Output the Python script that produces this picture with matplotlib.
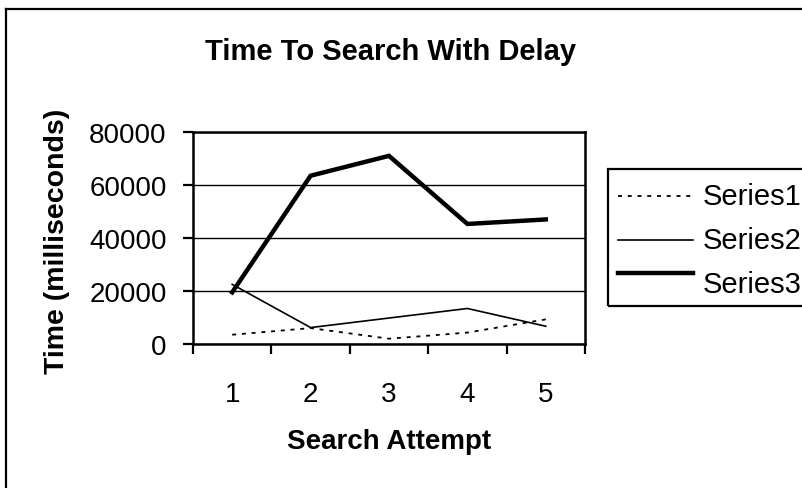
import matplotlib
matplotlib.use("Agg")
import matplotlib.pyplot as plt
from matplotlib.lines import Line2D
from matplotlib.patches import Rectangle

plt.rcParams['font.family'] = ['Liberation Sans', 'DejaVu Sans']

categories = [1, 2, 3, 4, 5]
series_names = ["Series1", "Series2", "Series3"]
series1 = [3500, 6000, 2000, 4300, 9300]
series2 = [22500, 6200, 9800, 13400, 6700]
series3 = [19500, 63500, 71000, 45300, 47000]
y_ticks = [0, 20000, 40000, 60000, 80000]

W, H = 802, 489
DPI = 100
fig = plt.figure(figsize=(W / DPI, H / DPI), dpi=DPI)

def fx(px):
    return px / W

def fy(py):
    return 1 - py / H

# figure border (extends past right/bottom edges)
fig.add_artist(Line2D([fx(6), fx(6)], [fy(10), -0.1], color='black', lw=1.6, transform=fig.transFigure))
fig.add_artist(Line2D([fx(6), 1.1], [fy(10), fy(10)], color='black', lw=1.6, transform=fig.transFigure))

left, right, top, bottom = 193, 585, 133, 345
ax = fig.add_axes([fx(left), fy(bottom), fx(right - left), (bottom - top) / H])

ax.plot(categories, series1, color='black', lw=1.3, linestyle=(0, (2.2, 3.2)))
ax.plot(categories, series2, color='black', lw=1.2, linestyle='-')
ax.plot(categories, series3, color='black', lw=3.2, linestyle='-', solid_joinstyle='miter')

ax.set_xlim(0.5, 5.5)
ax.set_ylim(0, 80000)

ax.set_yticks(y_ticks)
ax.set_yticklabels([str(v) for v in y_ticks])
ax.yaxis.grid(True, color='black', lw=1.0)
ax.set_axisbelow(True)

bounds = [c - 0.5 for c in categories] + [categories[-1] + 0.5]
ax.set_xticks(bounds)
ax.set_xticklabels([''] * len(bounds))
ax.set_xticks(categories, minor=True)
ax.set_xticklabels([str(c) for c in categories], minor=True)
ax.tick_params(axis='x', which='minor', length=0, pad=27, labelsize=20)
ax.tick_params(axis='x', which='major', length=7, width=1.6, direction='out')
ax.tick_params(axis='y', which='major', length=7, width=1.6, direction='out', pad=12, labelsize=20)

for s in ax.spines.values():
    s.set_linewidth(1.8)
    s.set_color('black')

# titles
fig.text(fx(391), fy(52), "Time To Search With Delay", ha='center', va='center',
         fontsize=21, fontweight='bold')
fig.text(fx(389), fy(442), "Search Attempt", ha='center', va='center',
         fontsize=20, fontweight='bold')
fig.text(fx(57), fy(241), "Time (milliseconds)", ha='center', va='center',
         fontsize=20.5, fontweight='bold', rotation=90)

# legend (manual, Excel style)
fig.add_artist(Rectangle((fx(608), fy(307)), fx(220), (307 - 170) / H, fill=False,
                         edgecolor='black', lw=1.6, transform=fig.transFigure))
styles = [dict(lw=1.3, linestyle=(0, (2.2, 3.2))), dict(lw=1.2, linestyle='-'), dict(lw=3.2, linestyle='-')]
line_y = [197, 241, 274]
text_y = [197, 241, 285]
for name, st, ly, ty in zip(series_names, styles, line_y, text_y):
    fig.add_artist(Line2D([fx(618), fx(693)], [fy(ly), fy(ly)], color='black',
                          transform=fig.transFigure, **st))
    fig.text(fx(703), fy(ty), name, ha='left', va='center', fontsize=21)

fig.savefig("out.png", dpi=DPI)
